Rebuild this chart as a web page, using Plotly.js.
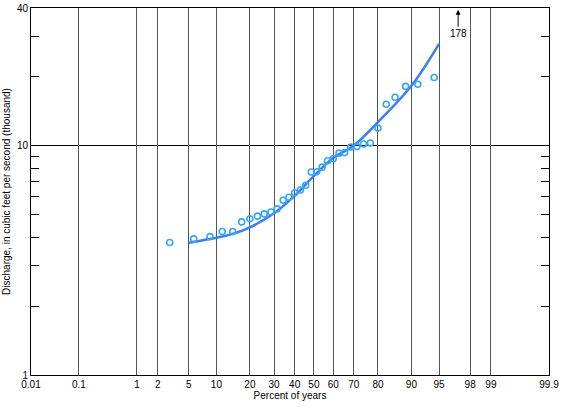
<!DOCTYPE html>
<html>
<head>
<meta charset="utf-8">
<script src="https://cdn.plot.ly/plotly-3.0.1.min.js"></script>
<style>
html,body{margin:0;padding:0;background:#fff;}
#chart{width:561px;height:407px;}
</style>
</head>
<body>
<div id="chart"></div>
<script>
// ---- data ----
// annual peak discharges (thousand cfs) and their plotting positions (percent of years)
const obsPercent = [2.9, 5.7, 8.6, 11.4, 14.3, 17.1, 20.0, 22.9, 25.7, 28.6, 31.4, 34.3,
  37.1, 40.0, 42.9, 45.7, 48.6, 51.4, 54.3, 57.1, 60.0, 62.9, 65.7, 68.6, 71.4, 74.3,
  77.1, 80.0, 82.9, 85.7, 88.6, 91.4, 94.3, 97.1];
const obsDischarge = [3.79, 3.93, 4.02, 4.23, 4.23, 4.66, 4.81, 4.94, 5.05, 5.15, 5.31, 5.79,
  5.97, 6.25, 6.42, 6.73, 7.69, 7.71, 8.08, 8.61, 8.79, 9.30, 9.35, 9.88, 9.93, 10.2,
  10.3, 11.96, 15.2, 16.3, 18.2, 18.6, 19.9, 178];
// fitted frequency curve
const fitPercent = [5, 10, 15, 20, 30, 40, 50, 60, 70, 80, 90, 95];
const fitDischarge = [3.78, 3.97, 4.16, 4.41, 5.08, 6.05, 7.4, 8.85, 10.05, 12.7, 18.3, 27.9];
// axis ticks
const xTickPercent = [0.01, 0.1, 1, 2, 5, 10, 20, 30, 40, 50, 60, 70, 80, 90, 95, 98, 99, 99.9];
const xTickLabels = ['0.01', '0.1', '1', '2', '5', '10', '20', '30', '40', '50', '60', '70', '80', '90', '95', '98', '99', '99.9'];
const yTickVals = [1, 2, 3, 4, 5, 6, 7, 8, 9, 10, 20, 30, 40];
const yTickLabels = ['1', '', '', '', '', '', '', '', '', '10', '', '', '40'];
const outlierLabel = '178';

// inverse standard normal CDF (Acklam) -> normal probability scale
function probit(p) {
  const a = [-3.969683028665376e+01, 2.209460984245205e+02, -2.759285104469687e+02,
    1.383577518672690e+02, -3.066479806614716e+01, 2.506628277459239e+00];
  const b = [-5.447609879822406e+01, 1.615858368580409e+02, -1.556989798598866e+02,
    6.680131188771972e+01, -1.328068155288572e+01];
  const c = [-7.784894002430293e-03, -3.223964580411365e-01, -2.400758277161838e+00,
    -2.549732539343734e+00, 4.374664141464968e+00, 2.938163982698783e+00];
  const d = [7.784695709041462e-03, 3.224671290700398e-01, 2.445134137142996e+00,
    3.754408661907416e+00];
  const pl = 0.02425, ph = 1 - pl;
  let q, r;
  if (p < pl) {
    q = Math.sqrt(-2 * Math.log(p));
    return (((((c[0]*q+c[1])*q+c[2])*q+c[3])*q+c[4])*q+c[5]) / ((((d[0]*q+d[1])*q+d[2])*q+d[3])*q+1);
  } else if (p <= ph) {
    q = p - 0.5; r = q * q;
    return (((((a[0]*r+a[1])*r+a[2])*r+a[3])*r+a[4])*r+a[5])*q / (((((b[0]*r+b[1])*r+b[2])*r+b[3])*r+b[4])*r+1);
  } else {
    q = Math.sqrt(-2 * Math.log(1 - p));
    return -(((((c[0]*q+c[1])*q+c[2])*q+c[3])*q+c[4])*q+c[5]) / ((((d[0]*q+d[1])*q+d[2])*q+d[3])*q+1);
  }
}
const z = pct => probit(pct / 100);

const font = {family: 'Liberation Sans, Arial, Helvetica, sans-serif', size: 10, color: '#000'};

const traces = [
  {
    x: fitPercent.map(z), y: fitDischarge, type: 'scatter', mode: 'lines',
    line: {color: '#3a7ef2', width: 2.5, shape: 'spline', smoothing: 1},
    hoverinfo: 'skip'
  },
  {
    x: obsPercent.map(z), y: obsDischarge, type: 'scatter', mode: 'markers',
    marker: {symbol: 'circle-open', size: 6, color: '#35a6fb', line: {width: 1.6, color: '#35a6fb'}},
    cliponaxis: true
  }
];

const nOut = obsDischarge.length - 1;
const layout = {
  width: 561, height: 407,
  margin: {l: 31, r: 12, t: 7.5, b: 31.5, pad: 0},
  paper_bgcolor: '#fff', plot_bgcolor: '#fff',
  showlegend: false,
  font: font,
  xaxis: {
    range: [z(0.01), z(99.9)],
    tickmode: 'array', tickvals: xTickPercent.map(z), ticktext: xTickLabels,
    ticks: '', showgrid: true, gridcolor: '#555', gridwidth: 1,
    zeroline: false, showline: true, linecolor: '#000', linewidth: 1, mirror: true,
    tickfont: font,
    title: {text: 'Percent of years', font: font, standoff: 2}
  },
  yaxis: {
    type: 'log', range: [0, Math.log10(40)],
    tickmode: 'array', tickvals: yTickVals, ticktext: yTickLabels,
    ticks: 'inside', ticklen: 8, tickcolor: '#000', tickwidth: 1,
    showgrid: false, zeroline: false,
    showline: true, linecolor: '#000', linewidth: 1, mirror: 'ticks',
    tickfont: font,
    minor: {tickmode: 'array', tickvals: [10], showgrid: true, gridcolor: '#000', gridwidth: 1, ticks: ''},
    title: {text: 'Discharge, in cubic feet per second (thousand)', font: font, standoff: 4}
  },
  annotations: [{
    x: z(obsPercent[nOut]), y: Math.log10(39.3), xref: 'x', yref: 'y',
    text: outlierLabel, showarrow: true, arrowhead: 2, arrowsize: 1, arrowwidth: 1,
    arrowcolor: '#000', ax: 0, ay: 24, standoff: 0, startstandoff: 0,
    font: font
  }]
};

Plotly.newPlot('chart', traces, layout, {displayModeBar: false, staticPlot: true});
</script>
</body>
</html>
